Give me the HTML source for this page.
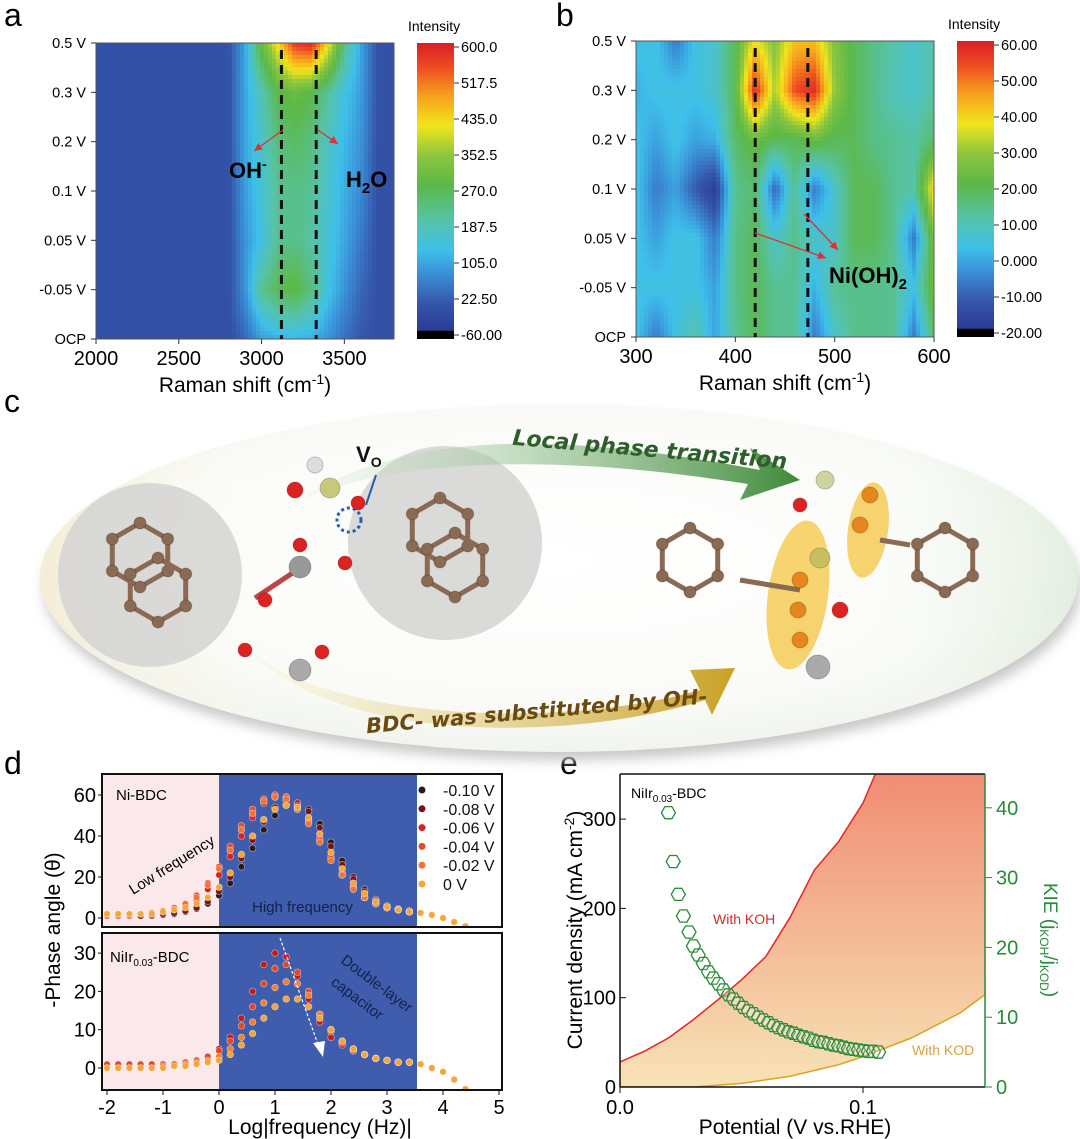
<!DOCTYPE html>
<html><head><meta charset="utf-8"><style>
html,body{margin:0;padding:0;background:#fff;}
svg{display:block;font-family:"Liberation Sans",sans-serif;}
</style></head><body>
<svg id="root" width="1080" height="1139" viewBox="0 0 1080 1139" xmlns="http://www.w3.org/2000/svg">
<defs>
<linearGradient id="cmap" x1="0" y1="1" x2="0" y2="0">
<stop offset="0" stop-color="#000"/><stop offset="0.025" stop-color="#000"/><stop offset="0.03" stop-color="#2a3c94"/>
<stop offset="0.12" stop-color="#3556ab"/><stop offset="0.22" stop-color="#3a8fd6"/><stop offset="0.3" stop-color="#3ec0ea"/>
<stop offset="0.4" stop-color="#56c3a8"/><stop offset="0.52" stop-color="#5cb847"/><stop offset="0.62" stop-color="#8cc63f"/>
<stop offset="0.72" stop-color="#f0e51c"/><stop offset="0.82" stop-color="#f7a21c"/><stop offset="0.92" stop-color="#ee4a22"/><stop offset="1" stop-color="#d81f26"/>
</linearGradient>
<radialGradient id="ellg" cx="0.5" cy="0.45" r="0.6">
<stop offset="0" stop-color="#ffffff"/><stop offset="0.7" stop-color="#fafbf8"/><stop offset="1" stop-color="#eef2ea"/>
</radialGradient>
<linearGradient id="ellEdge" x1="0" y1="0" x2="1" y2="0">
<stop offset="0" stop-color="#f3e7c4" stop-opacity="0.6"/><stop offset="0.25" stop-color="#fff" stop-opacity="0"/><stop offset="0.75" stop-color="#fff" stop-opacity="0"/><stop offset="1" stop-color="#d8e8d4" stop-opacity="0.6"/>
</linearGradient>
<linearGradient id="greenArrow" x1="0" y1="0" x2="1" y2="0">
<stop offset="0" stop-color="#d9ecd6" stop-opacity="0.2"/><stop offset="1" stop-color="#3f8a3a"/>
</linearGradient>
<linearGradient id="goldArrow" x1="0" y1="0" x2="1" y2="0">
<stop offset="0" stop-color="#f6efc8" stop-opacity="0.3"/><stop offset="1" stop-color="#c9a024"/>
</linearGradient>
<linearGradient id="eFill" x1="0" y1="0" x2="0" y2="1">
<stop offset="0" stop-color="#e83a34"/><stop offset="0.4" stop-color="#f08a72"/><stop offset="1" stop-color="#f8e3b6"/>
</linearGradient>
<filter id="blur6"><feGaussianBlur stdDeviation="6"/></filter>
<clipPath id="clipA"><rect x="96" y="43" width="298" height="296"/></clipPath>
<clipPath id="clipB"><rect x="636" y="41" width="298" height="296"/></clipPath>
<clipPath id="clipE"><rect x="620" y="774" width="365" height="313"/></clipPath>
<clipPath id="clipDT"><rect x="102" y="774" width="400" height="153"/></clipPath>
<clipPath id="clipDB"><rect x="102" y="933" width="400" height="157"/></clipPath>
</defs>

<text x="4" y="26" font-size="32">a</text>
<text x="556" y="26" font-size="32">b</text>
<text x="4" y="412" font-size="32">c</text>
<text x="4" y="774" font-size="32">d</text>
<text x="560" y="774" font-size="32">e</text>

<g id="pa"></g>
<g id="pb"></g>

<g id="pc">
<ellipse cx="562" cy="588" rx="518" ry="172" fill="#c8c8c8" filter="url(#blur6)"/>
<ellipse cx="559" cy="578" rx="519" ry="174" fill="url(#ellg)"/>
<ellipse cx="559" cy="578" rx="519" ry="174" fill="url(#ellEdge)"/>
<circle cx="150" cy="575" r="92" fill="#d4d4d2" opacity="0.85"/>
<circle cx="445" cy="543" r="97" fill="#d4d4d2" opacity="0.85"/>
<ellipse cx="798" cy="595" rx="30" ry="75" transform="rotate(8 798 595)" fill="#f5c542" opacity="0.75"/>
<ellipse cx="868" cy="530" rx="20" ry="48" transform="rotate(8 868 530)" fill="#f5c542" opacity="0.75"/>
<path d="M300,500 C420,420 600,440 760,470 L750,448 L800,480 L740,500 L748,484 C600,460 420,450 300,500 Z" fill="url(#greenArrow)"/>
<text x="512" y="455" font-size="22" font-style="italic" font-weight="bold" fill="#2e5e2a" transform="rotate(5 630 450)" font-family="'DejaVu Sans',sans-serif">Local phase transition</text>
<path d="M250,650 C330,720 560,730 700,690 L690,670 L735,668 L712,715 L705,700 C560,745 330,740 250,650 Z" fill="url(#goldArrow)"/>
<text x="365" y="718" font-size="21" font-style="italic" font-weight="bold" fill="#6a4a10" transform="rotate(-5 540 705)" font-family="'DejaVu Sans',sans-serif">BDC- was substituted by OH-</text>
<text x="356" y="462" font-size="22" font-weight="bold" fill="#111">V<tspan font-size="14" dy="5">O</tspan></text>
<line x1="366" y1="505" x2="376" y2="475" stroke="#2a5bb0" stroke-width="2"/>
<circle cx="349" cy="520" r="12" fill="none" stroke="#2a5bb0" stroke-width="3" stroke-dasharray="3,3"/>
<g id="mol"></g>
</g>

<g id="pd"></g>
<g id="pe"></g>
</svg>
<script>
// ===== Panel a data =====
const aShift = [2000,2100,2200,2300,2400,2500,2600,2700,2800,2900,3000,3100,3200,3300,3400,3500,3600,3700,3800];
const aRows = ['0.5 V','0.3 V','0.2 V','0.1 V','0.05 V','-0.05 V','OCP'];
const aI_05  = [5,5,5,5,5,5,5,5,10,110,300,430,570,590,430,240,110,10,5];
const aI_03  = [5,5,5,5,5,5,5,5,5,110,190,280,300,280,220,150,100,15,5];
const aI_02  = [5,5,5,5,5,5,5,5,5,110,170,240,260,240,180,130,90,10,5];
const aI_01  = [5,5,5,5,5,5,5,5,5,100,160,220,230,220,170,120,80,10,5];
const aI_005 = [5,5,5,5,5,5,5,5,5,90,150,220,230,210,160,110,60,10,5];
const aI_m05 = [5,5,5,5,5,5,5,5,5,90,220,270,290,240,150,90,40,10,5];
const aI_ocp = [5,5,5,5,5,5,5,5,5,40,100,120,130,120,90,50,20,5,5];
const aCbTicks = ['600.0','517.5','435.0','352.5','270.0','187.5','105.0','22.50','-60.00'];
const aXTicks = [2000,2500,3000,3500];
// ===== Panel b data =====
const bShift = [300,320,340,360,380,400,420,440,460,480,500,520,540,560,580,600];
const bRows = ['0.5 V','0.3 V','0.2 V','0.1 V','0.05 V','-0.05 V','OCP'];
const bI_05  = [5,5,-5,5,8,20,38,28,42,42,28,20,15,12,8,12];
const bI_03  = [2,5,5,5,8,20,58,32,54,58,30,20,15,10,8,12];
const bI_02  = [5,0,5,0,2,18,24,20,20,24,20,20,15,14,12,18];
const bI_01  = [5,-5,0,-10,-17,14,18,-8,14,-5,8,20,20,14,12,40];
const bI_005 = [5,0,5,5,-5,15,20,8,15,8,8,20,20,14,-5,25];
const bI_m05 = [5,5,5,5,0,15,20,14,14,2,14,15,15,14,5,25];
const bI_ocp = [5,-5,5,12,0,14,20,14,14,-5,8,15,15,14,-5,18];
const bCbTicks = ['60.00','50.00','40.00','30.00','20.00','10.00','0.000','-10.00','-20.00'];
const bXTicks = [300,400,500,600];
// ===== Panel d data =====
const dLogF = [-2,-1.8,-1.6,-1.4,-1.2,-1,-0.8,-0.6,-0.4,-0.2,0,0.2,0.4,0.6,0.8,1.0,1.2,1.4,1.6,1.8,2.0,2.2,2.4,2.6,2.8,3.0,3.2,3.4,3.6,3.8,4.0,4.2,4.4];
const dTop_m010 = [1,1,1,1,1,1.5,2,3,4.5,7,11,17,25,34,43,50,55,56,53,46,37,28,20,14,9,6,4.5,3.5,2.5,1.5,0,-2,-4];
const dTop_m008 = [1,1,1,1,1.5,2,2.5,3.5,5,8,13,20,29,38,47,54,57,56,52,44,35,26,19,13,8.5,5.5,4,3,2.5,1.5,0,-2,-4];
const dTop_m006 = [1.5,1.5,1.5,2,2,3,4,6,9,14,21,30,40,49,56,59,59,55,48,39,30,22,15,10,7,5,4,3,2.5,1.5,0,-2,-4];
const dTop_m004 = [1.5,1.5,1.5,2,2.5,3.5,5,7,11,17,25,35,45,53,58,60,59,54,47,38,29,21,15,10,7,5,4,3,2.5,1.5,0,-2,-4];
const dTop_m002 = [2,2,2,2,2.5,3.5,5,7,10,16,24,33,43,51,57,59,58,53,46,37,28,21,14,10,7,5,4,3,2.5,1.5,0,-2,-4];
const dTop_0 = [2,2,2,2,2,3,4,5,7,10,15,22,31,40,48,53,55,54,49,41,32,24,17,12,8,5.5,4,3,2.5,1.5,0,-2,-4];
const dBot_1 = [1,1,1,1,1,1,1,1.5,2,3,5,8,13,20,27,30,29,24,18,12,8,6,4.5,3.5,2.5,2,1.5,1.5,1,0,-1,-3,-5.5];
const dBot_2 = [1,1,1,1,1,1,1,1.5,2,3,4.5,7,11,16,22,26,27,25,20,14,9.5,6.5,4.5,3.5,2.5,2,1.5,1.5,1,0,-1,-3,-5.5];
const dBot_3 = [0,0,0,0,0,0.5,0.5,1,1.5,2,3,5,8,12,17,21,22.5,22,19,14,10,7,5,3.5,2.5,2,1.5,1.5,1,0,-1,-3,-5.5];
const dBot_4 = [0,0,0,0,0,0,0.5,0.5,1,1.5,2,3.5,6,9,13,16,18,18,16,13,10,7,5,3.5,2.5,2,1.5,1.5,1,0,-1,-3,-5.5];
const dLegend = ['-0.10 V','-0.08 V','-0.06 V','-0.04 V','-0.02 V','0 V'];
const dXTicks = [-2,-1,0,1,2,3,4,5];
const dTopYTicks = [0,20,40,60];
const dBotYTicks = [0,10,20,30];
// ===== Panel e data =====
const eKohPot = [0,0.01,0.02,0.03,0.04,0.05,0.06,0.07,0.08,0.09,0.1,0.105,0.15];
const eKohJ = [28,40,55,75,97,120,146,190,243,275,318,350,600];
const eKodPot = [0,0.03,0.05,0.07,0.09,0.1,0.12,0.14,0.15];
const eKodJ = [0,0,4,12,25,34,55,83,103];
const eKiePot = [0.0199,0.0219,0.0240,0.0261,0.0284,0.0302,0.0322,0.0343,0.0364,0.0384,0.0405,0.0426,0.0446,0.0467,0.0487,0.0508,0.0529,0.0549,0.0570,0.0590,0.0611,0.0632,0.0652,0.0673,0.0693,0.0714,0.0734,0.0755,0.0776,0.0796,0.0817,0.0837,0.0858,0.0879,0.0899,0.0920,0.0940,0.0961,0.0981,0.1002,0.1022,0.1043,0.1064];
const eKie = [39.3,32.3,27.6,24.5,22.2,20.2,18.9,17.7,16.5,15.6,14.8,13.9,13.2,12.6,12.0,11.4,10.9,10.5,10.0,9.6,9.2,8.8,8.5,8.2,7.9,7.7,7.4,7.2,7.0,6.7,6.5,6.4,6.2,6.0,5.9,5.7,5.5,5.4,5.3,5.2,5.1,5.1,5.0];
const eLeftTicks = [0,100,200,300];
const eRightTicks = [0,10,20,30,40];
const eXTicks = [0,0.1];

const NS='http://www.w3.org/2000/svg';
function mk(parent,tag,attrs,text){const e=document.createElementNS(NS,tag);for(const k in attrs)e.setAttribute(k,attrs[k]);if(text!==undefined)e.textContent=text;parent.appendChild(e);return e;}
const stops=[[0,[0,0,0]],[0.025,[0,0,0]],[0.03,[42,60,148]],[0.12,[53,86,171]],[0.22,[58,143,214]],[0.3,[62,192,234]],[0.4,[86,195,168]],[0.52,[92,184,71]],[0.62,[140,198,63]],[0.72,[240,229,28]],[0.82,[247,162,28]],[0.92,[238,74,34]],[1,[216,31,38]]];
function cmap(t){t=Math.max(0,Math.min(1,t));for(let i=1;i<stops.length;i++){if(t<=stops[i][0]){const a=stops[i-1],b=stops[i];const f=(t-a[0])/(b[0]-a[0]||1);const c=a[1].map((v,k)=>Math.round(v+(b[1][k]-v)*f));return `rgb(${c[0]},${c[1]},${c[2]})`;}}return 'rgb(216,31,38)';}

function heatPanel(g,clipId,x0,y0,w,h,xs,grid,vmin,vmax,rows,cbTicks,xTicks,xTickFmt,cbx){
  const xScale=v=>x0+(v-xs[0])*w/(xs[xs.length-1]-xs[0]);
  const yRow=i=>y0+i*h/(rows.length-1);
  const hg=mk(g,'g',{'clip-path':`url(#${clipId})`});
  
  
  const step=4;
  for(let py=y0;py<y0+h;py+=step){
    const rf=(py+step/2-y0)/(h/(rows.length-1));
    const r0=Math.min(rows.length-2,Math.floor(rf)),fr=rf-r0;
    for(let px=x0;px<x0+w;px+=step){
      const xv=xs[0]+(px+step/2-x0)*(xs[xs.length-1]-xs[0])/w;
      let c0=0;while(c0<xs.length-2&&xv>xs[c0+1])c0++;
      const fc=(xv-xs[c0])/(xs[c0+1]-xs[c0]);
      const v0=grid[r0][c0]*(1-fc)+grid[r0][c0+1]*fc;
      const v1=grid[r0+1][c0]*(1-fc)+grid[r0+1][c0+1]*fc;
      const v=v0*(1-fr)+v1*fr;
      const rc=mk(hg,'rect',{x:px,y:py,width:step+0.6,height:step+0.6,fill:cmap((v-vmin)/(vmax-vmin))});
      
      
    }
  }
  const fr=mk(g,'rect',{x:x0,y:y0,width:w,height:h,fill:'none',stroke:'#555','stroke-width':1});
  
  
  rows.forEach((lab,i)=>{
    const t=mk(g,'text',{x:x0-10,y:yRow(i)+5,'font-size':14.5,'text-anchor':'end'},lab);
    
    
    mk(g,'line',{x1:x0-5,x2:x0,y1:yRow(i),y2:yRow(i),stroke:'#333'});
  });
  xTicks.forEach(v=>{
    const x=xScale(v);
    mk(g,'line',{x1:x,x2:x,y1:y0+h,y2:y0+h+5,stroke:'#333'});
    const t=mk(g,'text',{x:x,y:y0+h+26,'font-size':20,'text-anchor':'middle'},xTickFmt(v));
    
    
  });
  const xt=mk(g,'text',{x:x0+w/2,y:y0+h+53,'font-size':21,'text-anchor':'middle'});
  xt.innerHTML='Raman shift (cm<tspan dy="-8" font-size="14">-1</tspan><tspan dy="8">)</tspan>';
  
  
  const cb=mk(g,'rect',{x:cbx,y:y0,width:37,height:h,fill:'url(#cmap)'});
  
  
  const it=mk(g,'text',{x:cbx-9,y:y0-12,'font-size':14},'Intensity');
  
  
  cbTicks.forEach((lab,i)=>{
    const y=y0+4+i*(h-8)/(cbTicks.length-1);
    mk(g,'line',{x1:cbx+37,x2:cbx+42,y1:y,y2:y,stroke:'#333'});
    const t=mk(g,'text',{x:cbx+44,y:y+5,'font-size':14.5},lab);
    
    
  });
  return xScale;
}
function dash(g,x,y1,y2){const l=mk(g,'line',{x1:x,x2:x,y1:y1,y2:y2,stroke:'#111','stroke-width':3,'stroke-dasharray':'9,6'});}
function redArrow(g,x1,y1,x2,y2){
  const l=mk(g,'line',{x1,y1,x2,y2,stroke:'#d33',"stroke-width":1.3});
  
  
  const a=Math.atan2(y2-y1,x2-x1),s=9;
  mk(g,'polygon',{points:`${x2},${y2} ${x2-s*Math.cos(a-0.45)},${y2-s*Math.sin(a-0.45)} ${x2-s*Math.cos(a+0.45)},${y2-s*Math.sin(a+0.45)}`,fill:'#d33'});
}
const pa=document.getElementById('pa');
const ax=heatPanel(pa,'clipA',96,43,298,296,aShift,[aI_05,aI_03,aI_02,aI_01,aI_005,aI_m05,aI_ocp],-60,600,aRows,aCbTicks,aXTicks,v=>String(v),417);
dash(pa,ax(3120),50,339);dash(pa,ax(3330),50,339);
redArrow(pa,283,130,254,151);redArrow(pa,318,130,338,144);
let t=mk(pa,'text',{x:229,y:178,'font-size':22,'font-weight':'bold'});t.innerHTML='OH<tspan dy="-9" font-size="14">-</tspan>';

t=mk(pa,'text',{x:346,y:187,'font-size':22,'font-weight':'bold'});t.innerHTML='H<tspan dy="6" font-size="15">2</tspan><tspan dy="-6">O</tspan>';

const pb=document.getElementById('pb');
const bx=heatPanel(pb,'clipB',636,41,298,296,bShift,[bI_05,bI_03,bI_02,bI_01,bI_005,bI_m05,bI_ocp],-20,60,bRows,bCbTicks,bXTicks,v=>String(v),957);
dash(pb,bx(420),48,337);dash(pb,bx(473),48,337);
redArrow(pb,755,233,826,258);redArrow(pb,804,214,838,250);
t=mk(pb,'text',{x:829,y:283,'font-size':22,'font-weight':'bold'});t.innerHTML='Ni(OH)<tspan dy="6" font-size="15">2</tspan>';


const mol=document.getElementById('mol');
function ball(x,y,r,c){const b=mk(mol,'circle',{cx:x,cy:y,r:r,fill:c,stroke:'#00000033'});}
function bond(x1,y1,x2,y2,c){mk(mol,'line',{x1,y1,x2,y2,stroke:c||'#8a6a55','stroke-width':5});}
function ring(cx,cy,r,col){const pts=[];for(let i=0;i<6;i++){const a=Math.PI/6+i*Math.PI/3;pts.push([cx+r*Math.cos(a),cy+r*Math.sin(a)]);}
  for(let i=0;i<6;i++){const p=pts[i],q=pts[(i+1)%6];bond(p[0],p[1],q[0],q[1]);}
  pts.forEach(p=>ball(p[0],p[1],6,col||'#8a6a52'));return pts;}
ring(140,555,32);ring(158,590,32);
ring(440,530,32);ring(455,565,32);
bond(255,598,300,568,'#b44');ball(265,600,7,'#d22');ball(245,650,7,'#d22');
ball(300,567,11,'#999');ball(345,563,7,'#d22');ball(300,545,7,'#d22');ball(322,652,7,'#d22');ball(300,670,11,'#aaa');
ball(295,490,8,'#d22');ball(330,488,10,'#c8c87a');ball(315,465,8,'#ddd');ball(358,503,7,'#d22');
ring(690,560,32);ring(945,560,32);
bond(740,580,800,590,'#8a6a52');ball(800,580,8,'#e8861e');ball(820,558,10,'#c8c060');ball(798,610,8,'#e8861e');ball(800,640,8,'#e8861e');
ball(860,525,8,'#e8861e');ball(870,495,8,'#e8861e');ball(825,480,9,'#cfd3a0');ball(818,667,12,'#aaa');ball(840,610,8,'#d22');ball(800,505,7,'#d22');
bond(880,540,910,545,'#8a6a52');

const pd=document.getElementById('pd');
const dx=l=>219+l*56;
const dyT=v=>918-v*2.05;
const dyB=v=>1068-v*3.83;
let r=mk(pd,'rect',{x:102,y:774,width:117,height:316,fill:'#fbe8ea'});
r=mk(pd,'rect',{x:219,y:774,width:198,height:316,fill:'#3f5cad'});
r=mk(pd,'rect',{x:102,y:927,width:400,height:6,fill:'#fff'});
const topCols=['#2a1a1a','#7a1212','#d42323','#e84a2a','#f07434','#f5a735'];
const topSeries=[dTop_m010,dTop_m008,dTop_m006,dTop_m004,dTop_m002,dTop_0];
const botCols=['#c81818','#e04828','#f08030','#f5a535'];
const botSeries=[dBot_1,dBot_2,dBot_3,dBot_4];
const gt=mk(pd,'g',{'clip-path':'url(#clipDT)'});
topSeries.forEach((s,si)=>{s.forEach((v,i)=>{
  const c=mk(gt,'circle',{cx:dx(dLogF[i]),cy:dyT(v),r:3.3,fill:topCols[si],stroke:'#ffffff88','stroke-width':0.7});
  
  
});});
const gb=mk(pd,'g',{'clip-path':'url(#clipDB)'});
botSeries.forEach((s,si)=>{s.forEach((v,i)=>{
  const c=mk(gb,'circle',{cx:dx(dLogF[i]),cy:dyB(v),r:3.3,fill:botCols[si],stroke:'#ffffff88','stroke-width':0.7});
  
  
});});
mk(pd,'rect',{x:102,y:774,width:400,height:153,fill:'none',stroke:'#111','stroke-width':2});
mk(pd,'rect',{x:102,y:933,width:400,height:157,fill:'none',stroke:'#111','stroke-width':2});
dTopYTicks.forEach(v=>{mk(pd,'line',{x1:98,x2:102,y1:dyT(v),y2:dyT(v),stroke:'#111'});
  const tt=mk(pd,'text',{x:96,y:dyT(v)+7,'font-size':20,'text-anchor':'end'},String(v));});
dBotYTicks.forEach(v=>{mk(pd,'line',{x1:98,x2:102,y1:dyB(v),y2:dyB(v),stroke:'#111'});
  const tt=mk(pd,'text',{x:96,y:dyB(v)+7,'font-size':20,'text-anchor':'end'},String(v));});
dXTicks.forEach(v=>{mk(pd,'line',{x1:dx(v),x2:dx(v),y1:1090,y2:1095,stroke:'#111'});
  const tt=mk(pd,'text',{x:dx(v),y:1114,'font-size':20,'text-anchor':'middle'},String(v));});
t=mk(pd,'text',{x:320,y:1134,'font-size':21,'text-anchor':'middle'},'Log|frequency (Hz)|');
t=mk(pd,'text',{x:0,y:0,'font-size':21,'text-anchor':'middle',transform:'translate(60,930) rotate(-90)'},'-Phase angle (θ)');
dLegend.forEach((lab,i)=>{const y=790+i*18.8;
  const c=mk(pd,'circle',{cx:422,cy:y,r:3.5,fill:topCols[i]});
  const tt=mk(pd,'text',{x:443,y:y+6,'font-size':16,fill:'#111'},lab);});
t=mk(pd,'text',{x:116,y:800,'font-size':15},'Ni-BDC');
t=mk(pd,'text',{x:110,y:962,'font-size':15});t.innerHTML='NiIr<tspan dy="4" font-size="10">0.03</tspan><tspan dy="-4">-BDC</tspan>';
t=mk(pd,'text',{x:0,y:0,'font-size':15,transform:'translate(133,895) rotate(-32)'},'Low frequency');
t=mk(pd,'text',{x:252,y:912,'font-size':15,fill:'#14224a'},'High frequency');
t=mk(pd,'text',{x:0,y:0,'font-size':15,fill:'#14224a',transform:'translate(340,962) rotate(37)'},'Double-layer');
t=mk(pd,'text',{x:0,y:0,'font-size':15,fill:'#14224a',transform:'translate(330,984) rotate(37)'},'capacitor');
mk(pd,'line',{x1:280,y1:938,x2:320,y2:1050,stroke:'#fff','stroke-width':1.2,'stroke-dasharray':'3,2'});
mk(pd,'polygon',{points:'323,1057 313,1043 325,1041',fill:'#fff'});

const pe=document.getElementById('pe');
const ex=p=>620+p*2430;
const eyL=j=>1087-j*0.893;
const eyR=k=>1087-k*6.98;
const ge=mk(pe,'g',{'clip-path':'url(#clipE)'});
let d='M'+ex(eKohPot[0])+','+eyL(eKohJ[0]);
for(let i=1;i<eKohPot.length;i++)d+=' L'+ex(eKohPot[i])+','+eyL(eKohJ[i]);
let d2='';for(let i=eKodPot.length-1;i>=0;i--)d2+=' L'+ex(eKodPot[i])+','+eyL(eKodJ[i]);
let f=mk(ge,'path',{d:d+' L'+ex(0.15)+','+eyL(600)+d2+' Z',fill:'url(#eFill)'});
let p=mk(ge,'path',{d:d,fill:'none',stroke:'#e02828','stroke-width':1.5});
let dk='M'+eKodPot.map((v,i)=>ex(v)+','+eyL(eKodJ[i])).join(' L');
p=mk(ge,'path',{d:dk,fill:'none',stroke:'#e0a020','stroke-width':1.5});
eKiePot.forEach((v,i)=>{const cx=ex(v),cy=eyR(eKie[i]),rr=7;let pts=[];for(let k=0;k<6;k++){const a=k*Math.PI/3;pts.push((cx+rr*Math.cos(a)).toFixed(1)+','+(cy+rr*Math.sin(a)).toFixed(1));}
  const h=mk(pe,'polygon',{points:pts.join(' '),fill:'#ffffff',"fill-opacity":0.15,stroke:'#2a8a3a','stroke-width':1.3});
  
  });
mk(pe,'line',{x1:620,x2:985,y1:774,y2:774,stroke:'#111','stroke-width':1.5});
mk(pe,'line',{x1:620,x2:620,y1:774,y2:1087,stroke:'#111','stroke-width':1.5});
mk(pe,'line',{x1:620,x2:985,y1:1087,y2:1087,stroke:'#111','stroke-width':1.5});
mk(pe,'line',{x1:985,x2:985,y1:774,y2:1087,stroke:'#2a8a3a','stroke-width':1.5});
eLeftTicks.forEach(v=>{mk(pe,'line',{x1:620,x2:626,y1:eyL(v),y2:eyL(v),stroke:'#111'});
  const tt=mk(pe,'text',{x:616,y:eyL(v)+7,'font-size':20,'text-anchor':'end'},String(v));});
eRightTicks.forEach(v=>{mk(pe,'line',{x1:985,x2:992,y1:eyR(v),y2:eyR(v),stroke:'#2a8a3a'});
  const tt=mk(pe,'text',{x:996,y:eyR(v)+7,'font-size':20,fill:'#2a8a3a'},String(v));});
eXTicks.forEach(v=>{mk(pe,'line',{x1:ex(v),x2:ex(v),y1:1087,y2:1093,stroke:'#111'});
  const tt=mk(pe,'text',{x:ex(v),y:1114,'font-size':20,'text-anchor':'middle'},v.toFixed(1));});
t=mk(pe,'text',{x:795,y:1134,'font-size':21,'text-anchor':'middle'},'Potential (V vs.RHE)');
t=mk(pe,'text',{x:0,y:0,'font-size':21,'text-anchor':'middle',transform:'translate(582,930) rotate(-90)'});t.innerHTML='Current density (mA cm<tspan dy="-8" font-size="14">-2</tspan><tspan dy="8">)</tspan>';
t=mk(pe,'text',{x:0,y:0,'font-size':19,'text-anchor':'middle',fill:'#2a8a3a',transform:'translate(1044,940) rotate(90)'});t.innerHTML='KIE (j<tspan dy="4" font-size="12">KOH</tspan><tspan dy="-4">/j</tspan><tspan dy="4" font-size="12">KOD</tspan><tspan dy="-4">)</tspan>';
t=mk(pe,'text',{x:631,y:798,'font-size':14});t.innerHTML='NiIr<tspan dy="4" font-size="10">0.03</tspan><tspan dy="-4">-BDC</tspan>';
t=mk(pe,'text',{x:713,y:924,'font-size':14,fill:'#d42a2a'},'With KOH');
t=mk(pe,'text',{x:912,y:1055,'font-size':14,fill:'#d8a040'},'With KOD');
</script>
</body></html>
